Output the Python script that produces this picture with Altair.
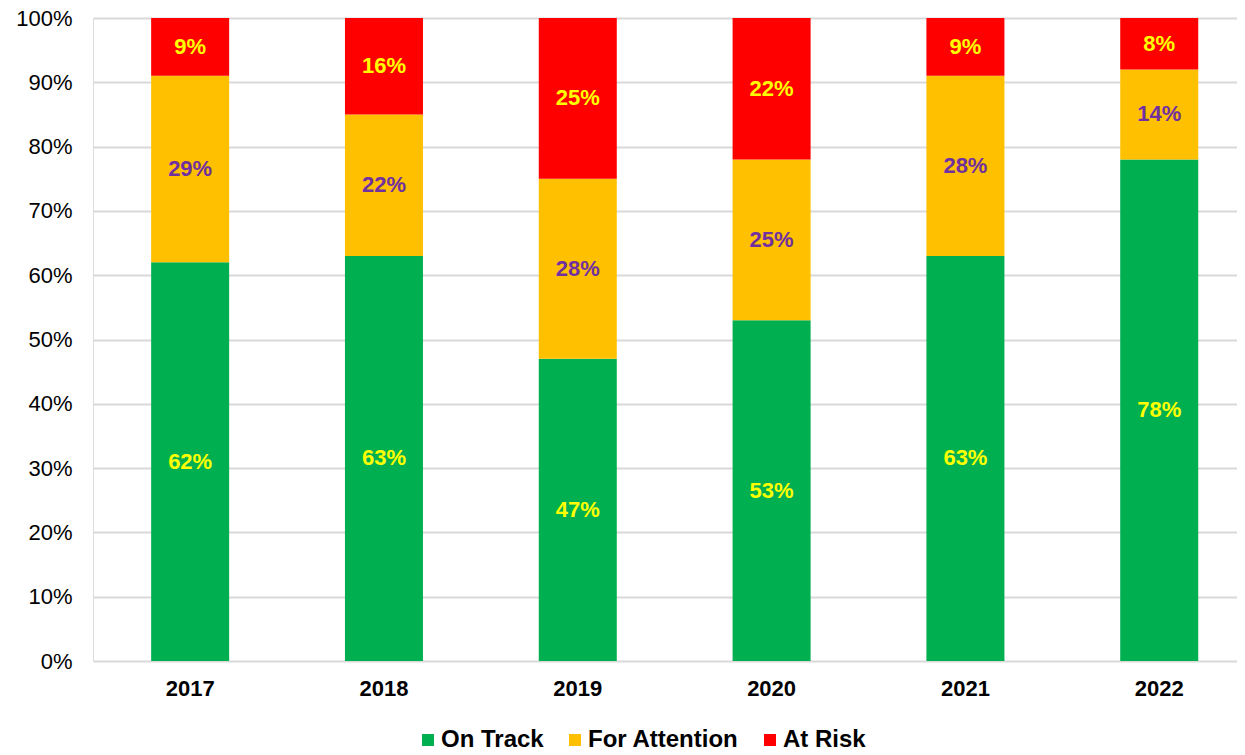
import altair as alt
import pandas as pd

years = ["2017", "2018", "2019", "2020", "2021", "2022"]
on_track = [62, 63, 47, 53, 63, 78]
for_attention = [29, 22, 28, 25, 28, 14]
at_risk = [9, 16, 25, 22, 9, 8]
series = ["On Track", "For Attention", "At Risk"]
colors = ["#00B050", "#FFC000", "#FF0000"]
label_colors = ["#FFFF00", "#7030A0", "#FFFF00"]

rows = []
for i, y in enumerate(years):
    for k, (s, vals) in enumerate(zip(series, [on_track, for_attention, at_risk])):
        rows.append({"year": y, "series": s, "order": k, "value": vals[i] / 100.0,
                     "label": f"{vals[i]}%", "lcolor": label_colors[k]})
df = pd.DataFrame(rows)

FONT = "Liberation Sans"

base = alt.Chart(df).transform_stack(
    stack="value", groupby=["year"], as_=["v0", "v1"],
    sort=[alt.SortField("order", order="ascending")]
).transform_calculate(
    v1c="min(datum.v1, 1)"
).transform_calculate(
    mid="(datum.v0 + datum.v1c) / 2"
)

x_enc = alt.X("year:N", sort=years, title=None,
              scale=alt.Scale(paddingInner=0.5975, paddingOuter=0.25, align=0.6),
              axis=alt.Axis(labelAngle=0, labelFont=FONT, labelFontSize=22,
                            labelFontWeight="bold", labelColor="#000000",
                            ticks=False, domain=False, labelPadding=17))

bars = base.mark_bar().encode(
    x=x_enc,
    y=alt.Y("v0:Q", title=None,
            scale=alt.Scale(domain=[0, 1], nice=False),
            axis=alt.Axis(format=".0%", values=[i / 10 for i in range(11)],
                          labelFont=FONT, labelFontSize=22, labelColor="#000000",
                          ticks=False, domain=False, labelPadding=21,
                          grid=True, gridColor="#D9D9D9", gridWidth=2)),
    y2="v1c:Q",
    color=alt.Color("series:N", sort=series,
                    scale=alt.Scale(domain=series, range=colors),
                    legend=alt.Legend(title=None, orient="none", direction="horizontal",
                                      legendX=323, legendY=710,
                                      symbolType="square", symbolSize=144,
                                      symbolStrokeWidth=0,
                                      labelFont=FONT, labelFontSize=24,
                                      labelFontWeight="bold", labelColor="#000000",
                                      labelOffset=1, columnPadding=19,
                                      labelLimit=300)),
)

texts = base.mark_text(font=FONT, fontSize=22, fontWeight="bold").encode(
    x=alt.X("year:N", sort=years),
    y=alt.Y("mid:Q"),
    text="label:N",
    color=alt.Color("lcolor:N", scale=None),
)

chart = (bars + texts).properties(
    width=1144, height=643,
    autosize=alt.AutoSizeParams(type="none"),
    padding={"left": 85, "top": 10, "right": 0, "bottom": 90},
).configure_view(stroke=None).configure(background="#FFFFFF")

chart.save("out.html", embed_options={"renderer": "svg", "actions": False})
